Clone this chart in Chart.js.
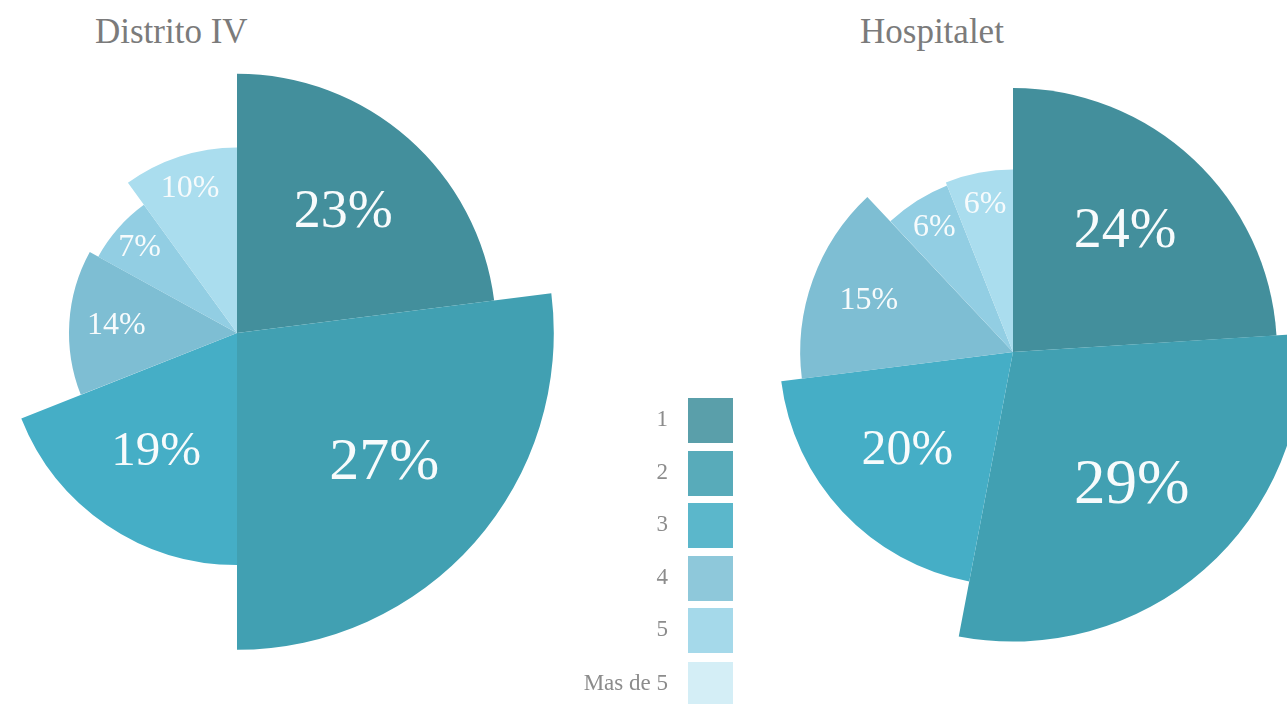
<!DOCTYPE html>
<html>
<head>
<meta charset="utf-8">
<script src="https://cdn.jsdelivr.net/npm/chart.js@4.4.0/dist/chart.umd.min.js"></script>
<style>
  body { margin: 0; width: 1287px; height: 704px; overflow: hidden; background: #fff; position: relative; font-family: "Liberation Serif", serif; }
  .titulo { position: absolute; top: 14px; font-size: 35px; line-height: 1; color: #7b7b7b; }
  canvas { position: absolute; }
  .caja { position: absolute; left: 688px; width: 45px; height: 45px; }
  .etq { position: absolute; right: 619px; height: 45px; line-height: 45px; font-size: 23px; color: #8c8c8c; white-space: nowrap; }
</style>
</head>
<body>
<div class="titulo" style="left:95px">Distrito IV</div>
<div class="titulo" style="left:860px">Hospitalet</div>
<canvas id="distrito" width="640" height="640" style="left:-83px; top:13px"></canvas>
<canvas id="hospitalet" width="640" height="640" style="left:693px; top:32px"></canvas>
<div id="leyenda"></div>
<script>
// Categorias (personas por hogar)
var categorias = ['1', '2', '3', '4', '5', 'Mas de 5'];

// Porcentajes de cada grupo (dan el angulo de la porcion)
var pctDistrito = [23, 27, 19, 14, 7, 10];
var pctHospitalet = [24, 29, 20, 15, 6, 6];

// Radio de cada porcion (escala 0-100)
var radioDistrito = [81, 99, 72.5, 52.5, 49.5, 58];
var radioHospitalet = [82.5, 90.5, 73, 66.5, 56, 57];

// Colores
var colores = ['#438f9c', '#41a0b2', '#45aec6', '#7ebed3', '#92cee3', '#aaddee'];
var coloresLeyenda = ['#5a9faa', '#58abba', '#5bb7cb', '#8ec8da', '#a5d9ea', '#d4eef6'];

// Plugin para escribir los porcentajes dentro de cada porcion
function crearEtiquetas(pcts) {
    return {
        id: 'etiquetas',
        afterDatasetsDraw: function(chart) {
            var ctx = chart.ctx;
            var arcos = chart.getDatasetMeta(0).data;
            ctx.save();
            ctx.fillStyle = '#f7fbfc';
            ctx.textAlign = 'center';
            ctx.textBaseline = 'middle';
            arcos.forEach(function(arco, i) {
                var p = pcts[i];
                var medio = (arco.startAngle + arco.endAngle) / 2;
                var factor = p >= 19 ? 0.62 : (p >= 14 ? 0.72 : 0.82);
                var r = arco.outerRadius * factor;
                var tam = p >= 19 ? Math.round(1.4 * p + 22) : 32;
                ctx.font = tam + 'px "Liberation Serif", serif';
                ctx.fillText(p + '%', arco.x + Math.cos(medio) * r, arco.y + Math.sin(medio) * r);
            });
            ctx.restore();
        }
    };
}

function crearGrafico(id, pcts, radios) {
    var ctx = document.getElementById(id).getContext('2d');
    return new Chart(ctx, {
        type: 'polarArea',
        data: {
            labels: categorias,
            datasets: [{
                data: radios,
                backgroundColor: colores,
                borderWidth: 0,
                angle: function(c) { return pcts[c.dataIndex] * 3.6; }
            }]
        },
        options: {
            responsive: false,
            animation: false,
            events: [],
            layout: { padding: 0 },
            plugins: {
                legend: { display: false },
                tooltip: { enabled: false }
            },
            scales: {
                r: { display: false, min: 0, max: 100, startAngle: 0 }
            }
        },
        plugins: [crearEtiquetas(pcts)]
    });
}

crearGrafico('distrito', pctDistrito, radioDistrito);
crearGrafico('hospitalet', pctHospitalet, radioHospitalet);

// Leyenda central
var leyenda = document.getElementById('leyenda');
var topes = [398, 451, 503, 556, 608, 662];
categorias.forEach(function(cat, i) {
    var caja = document.createElement('div');
    caja.className = 'caja';
    caja.style.top = topes[i] + 'px';
    caja.style.background = coloresLeyenda[i];
    leyenda.appendChild(caja);
    var etq = document.createElement('div');
    etq.className = 'etq';
    etq.style.top = (topes[i] - 2) + 'px';
    etq.textContent = cat;
    leyenda.appendChild(etq);
});
</script>
</body>
</html>
